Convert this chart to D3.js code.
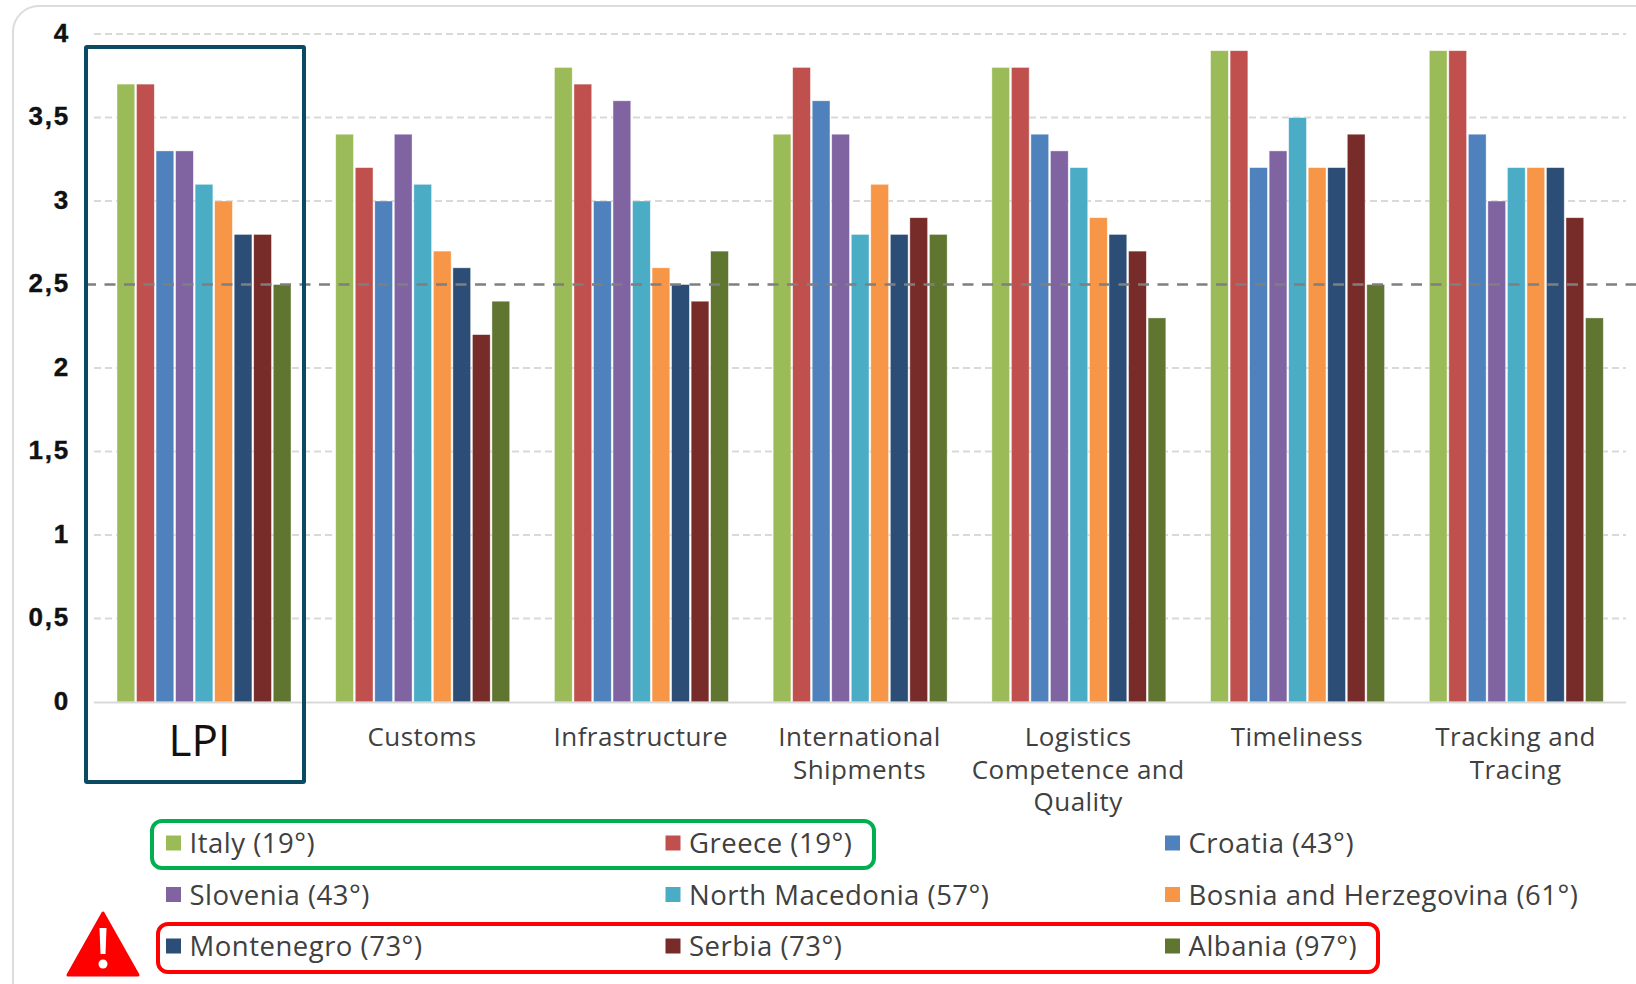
<!DOCTYPE html>
<html>
<head>
<meta charset="utf-8">
<script src="https://cdn.jsdelivr.net/npm/d3@7/dist/d3.min.js"></script>
<style>
  html, body { margin: 0; padding: 0; background: #fff; }
  svg { display: block; }
  text { font-family: "Open Sans", sans-serif; fill: #404040; }
</style>
</head>
<body>
<svg id="chart" width="1636" height="984"></svg>
<script>
// Logistics Performance Index scores per dimension, by country
const categories = ["LPI", "Customs", "Infrastructure", "International Shipments",
  "Logistics Competence and Quality", "Timeliness", "Tracking and Tracing"];
const categoryLines = [["LPI"], ["Customs"], ["Infrastructure"], ["International", "Shipments"],
  ["Logistics", "Competence and", "Quality"], ["Timeliness"], ["Tracking and", "Tracing"]];
const countries = ["Italy", "Greece", "Croatia", "Slovenia", "North Macedonia",
  "Bosnia and Herzegovina", "Montenegro", "Serbia", "Albania"];
const ranks = [19, 19, 43, 43, 57, 61, 73, 73, 97];
const colors = ["#9bbb59", "#c0504d", "#4f81bd", "#8064a2", "#4bacc6",
  "#f79646", "#2c4d75", "#772c2a", "#5f7530"];

const italy = [3.7, 3.4, 3.8, 3.4, 3.8, 3.9, 3.9];
const greece = [3.7, 3.2, 3.7, 3.8, 3.8, 3.9, 3.9];
const croatia = [3.3, 3.0, 3.0, 3.6, 3.4, 3.2, 3.4];
const slovenia = [3.3, 3.4, 3.6, 3.4, 3.3, 3.3, 3.0];
const northMacedonia = [3.1, 3.1, 3.0, 2.8, 3.2, 3.5, 3.2];
const bosnia = [3.0, 2.7, 2.6, 3.1, 2.9, 3.2, 3.2];
const montenegro = [2.8, 2.6, 2.5, 2.8, 2.8, 3.2, 3.2];
const serbia = [2.8, 2.2, 2.4, 2.9, 2.7, 3.4, 2.9];
const albania = [2.5, 2.4, 2.7, 2.8, 2.3, 2.5, 2.3];
const seriesValues = [italy, greece, croatia, slovenia, northMacedonia, bosnia, montenegro, serbia, albania];

const yTicks = [0, 0.5, 1, 1.5, 2, 2.5, 3, 3.5, 4];
const threshold = 2.5;

const svg = d3.select("#chart");

// Rounded card behind the whole chart
svg.append("rect")
  .attr("x", 13).attr("y", 6).attr("width", 1660).attr("height", 1010).attr("rx", 26)
  .attr("fill", "#fff").attr("stroke", "#dcdcdc").attr("stroke-width", 2);

const x = d3.scaleBand().domain(categories).range([94, 1625]);
const xInner = d3.scaleBand().domain(countries).range([23, 197]).paddingInner(0.09).paddingOuter(0);
const y = d3.scaleLinear().domain([0, 4]).range([702, 34]);

// Value axis with light dashed gridlines
const yAxis = svg.append("g")
  .attr("transform", "translate(94,0)")
  .call(d3.axisLeft(y).tickValues(yTicks).tickSize(0).tickPadding(24)
    .tickFormat(d => String(d).replace(".", ",")));
yAxis.select(".domain").remove();
yAxis.selectAll("text")
  .attr("dy", "0.27em")
  .style("font-family", "'Liberation Sans', sans-serif")
  .style("font-size", "26px").style("font-weight", 700)
  .style("letter-spacing", "1.8px")
  .style("fill", "#111").style("stroke", "#111").style("stroke-width", 0.4);

svg.append("g").selectAll("line")
  .data(yTicks.filter(d => d > 0 && d !== threshold))
  .join("line")
  .attr("x1", 94).attr("x2", 1626)
  .attr("y1", d => y(d)).attr("y2", d => y(d))
  .attr("stroke", "#d9d9d9").attr("stroke-width", 2).attr("stroke-dasharray", "7 4");

// Grouped bars
const groups = svg.append("g").selectAll("g")
  .data(categories)
  .join("g")
  .attr("transform", d => `translate(${x(d)},0)`);

groups.selectAll("rect")
  .data((d, i) => countries.map((c, s) => ({ country: c, value: seriesValues[s][i], color: colors[s] })))
  .join("rect")
  .attr("x", d => xInner(d.country))
  .attr("width", xInner.bandwidth())
  .attr("y", d => y(d.value))
  .attr("height", d => y(0) - y(d.value))
  .attr("fill", d => d.color)
  .attr("stroke", "#fff").attr("stroke-width", 0.7).attr("stroke-opacity", 0.6);

// Category baseline
svg.append("line")
  .attr("x1", 94).attr("x2", 1626).attr("y1", y(0) + 0.5).attr("y2", y(0) + 0.5)
  .attr("stroke", "#d9d9d9").attr("stroke-width", 2);

// Threshold line across all groups
svg.append("line")
  .attr("x1", 85).attr("x2", 1636).attr("y1", y(threshold)).attr("y2", y(threshold))
  .attr("stroke", "#7f7f7f").attr("stroke-width", 2.5).attr("stroke-dasharray", "11 8.5");

// Category labels, the first one enlarged
categories.forEach((c, i) => {
  const isMain = i === 0;
  const label = svg.append("text")
    .attr("text-anchor", "middle")
    .attr("y", isMain ? 756 : 746)
    .style("font-size", isMain ? "44px" : "26px")
    .style("letter-spacing", isMain ? "0" : "0.45px")
    .style("fill", isMain ? "#111" : "#404040");
  categoryLines[i].forEach((line, k) => {
    label.append("tspan")
      .attr("x", x(c) + x.bandwidth() / 2 - (isMain ? 4 : 0))
      .attr("dy", k === 0 ? 0 : 32.7)
      .text(line);
  });
});

// Legend in three columns
const legendX = d3.scalePoint().domain([0, 1, 2]).range([166, 1165]);
const legendY = d3.scalePoint().domain([0, 1, 2]).range([843, 946]);
const legend = svg.append("g").selectAll("g")
  .data(countries)
  .join("g")
  .attr("transform", (d, i) => `translate(${legendX(i % 3)},${legendY(Math.floor(i / 3))})`);
legend.append("rect")
  .attr("y", -7.5).attr("width", 15).attr("height", 15)
  .attr("fill", (d, i) => colors[i]);
legend.append("text")
  .attr("x", 23.5).attr("y", 10)
  .style("font-size", "27.5px")
  .style("letter-spacing", "0.5px")
  .text((d, i) => `${d} (${ranks[i]}°)`);

// Highlight frames
const frames = [
  { x: 86, y: 47, w: 218, h: 735, rx: 1, stroke: "#0b4a63" },
  { x: 152, y: 821, w: 722, h: 47, rx: 10, stroke: "#00b050" },
  { x: 158, y: 924, w: 1220, h: 48, rx: 10, stroke: "#ff0000" }
];
svg.append("g").selectAll("rect")
  .data(frames)
  .join("rect")
  .attr("x", d => d.x).attr("y", d => d.y)
  .attr("width", d => d.w).attr("height", d => d.h).attr("rx", d => d.rx)
  .attr("fill", "none").attr("stroke", d => d.stroke).attr("stroke-width", 4);

// Warning sign next to the lowest-ranked countries
const warning = svg.append("g").attr("transform", "translate(103,913)");
warning.append("path")
  .attr("d", "M0,0 L35,62 L-35,62 Z")
  .attr("fill", "#ff0000").attr("stroke", "#ff0000").attr("stroke-width", 3).attr("stroke-linejoin", "round");
warning.append("path").attr("d", "M-3.5,15 L3.5,15 L2.5,41 L-2.5,41 Z").attr("fill", "#fff");
warning.append("circle").attr("cy", 51).attr("r", 4.5).attr("fill", "#fff");
</script>
</body>
</html>
